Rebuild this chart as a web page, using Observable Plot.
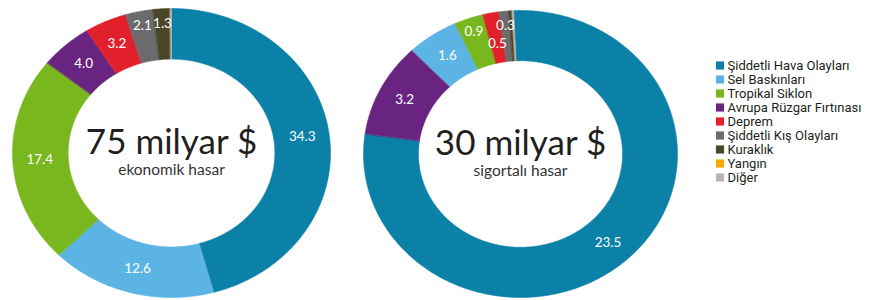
<!DOCTYPE html>
<html>
<head>
<meta charset="utf-8">
<script src="https://cdn.jsdelivr.net/npm/d3@7"></script>
<script src="https://cdn.jsdelivr.net/npm/@observablehq/plot@0.6"></script>
<style>
  html, body { margin: 0; padding: 0; background: #fff; }
  #wrap { display: flex; width: 883px; height: 300px; font-family: Lato, sans-serif; }
  #wrap svg { display: block; background: transparent; }
</style>
</head>
<body>
<div id="wrap"></div>
<script>
// ---- data ----
const categories = [
  "Şiddetli Hava Olayları",
  "Sel Baskınları",
  "Tropikal Siklon",
  "Avrupa Rüzgar Fırtınası",
  "Deprem",
  "Şiddetli Kış Olayları",
  "Kuraklık",
  "Yangın",
  "Diğer"
];
const colors = ["#0b81a7", "#5cb4e4", "#78b71e", "#692481", "#e2202c", "#6b6b6d", "#4a4628", "#f4aa00", "#bab3ad"];

// values in legend (category) order
const ekonomikValues = [34.3, 12.6, 17.4, 4.0, 3.2, 2.1, 1.3, 0, 0.1];
const sigortaliValues = [23.5, 1.6, 0.9, 3.2, 0.5, 0.3, 0.1, 0, 0.05];

// clockwise order of slices from 12 o'clock
const ekonomikOrder = [
  "Şiddetli Hava Olayları", "Sel Baskınları", "Tropikal Siklon", "Avrupa Rüzgar Fırtınası",
  "Deprem", "Şiddetli Kış Olayları", "Kuraklık", "Yangın", "Diğer"
];
const sigortaliOrder = [
  "Şiddetli Hava Olayları", "Avrupa Rüzgar Fırtınası", "Sel Baskınları", "Tropikal Siklon",
  "Deprem", "Şiddetli Kış Olayları", "Kuraklık", "Yangın", "Diğer"
];

const titles = ["75 milyar $", "30 milyar $"];
const subtitles = ["ekonomik hasar", "sigortalı hasar"];

// ---- helpers ----
const INNER = 0.65;
const FONT = "Lato, sans-serif";
const color = {domain: categories, range: colors};

function slices(values, order, startDeg) {
  const byCat = new Map(categories.map((c, i) => [c, values[i]]));
  const vals = order.map(c => byCat.get(c));
  const total = d3.sum(vals);
  let acc = 0;
  return order.map((c, i) => {
    const v = vals[i];
    const a0 = startDeg + acc / total * 360;
    acc += v;
    const a1 = startDeg + acc / total * 360;
    return {cat: c, value: v, a0, a1, frac: v / total};
  }).filter(d => d.value > 0);
}

function ringPoints(sl) {
  const pts = [];
  for (const s of sl) {
    const n = Math.max(2, Math.ceil((s.a1 - s.a0) / 0.5));
    for (let k = 0; k <= n; k++) {
      const a = (s.a0 + (s.a1 - s.a0) * k / n) * Math.PI / 180;
      pts.push({cat: s.cat, x: Math.sin(a), y: Math.cos(a)});
    }
    for (let k = n; k >= 0; k--) {
      const a = (s.a0 + (s.a1 - s.a0) * k / n) * Math.PI / 180;
      pts.push({cat: s.cat, x: INNER * Math.sin(a), y: INNER * Math.cos(a)});
    }
  }
  return pts;
}

function labelPoints(sl, ringOverride) {
  return sl.filter(s => s.value >= 0.3).map(s => {
    const mid = (s.a0 + s.a1) / 2 * Math.PI / 180;
    let r = s.frac < 0.035 ? 0.9 : 0.83;
    if (ringOverride[s.cat] != null) r = ringOverride[s.cat];
    return {x: r * Math.sin(mid), y: r * Math.cos(mid), text: s.value.toFixed(1)};
  });
}

function donut({values, order, title, subtitle, width, xRange, yRange, startDeg, ringOverride}) {
  const sl = slices(values, order, startDeg);
  return Plot.plot({
    width, height: 300,
    margin: 0,
    style: {fontFamily: FONT, background: "transparent"},
    x: {domain: [-1, 1], range: xRange, axis: null},
    y: {domain: [-1, 1], range: yRange, axis: null},
    color,
    marks: [
      Plot.line(ringPoints(sl), {x: "x", y: "y", z: "cat", fill: "cat", stroke: "cat", strokeWidth: 0.6, curve: "linear-closed"}),
      Plot.text(labelPoints(sl, ringOverride), {x: "x", y: "y", text: "text", fill: "white", fontSize: 13.5}),
      Plot.text([title], {x: () => 0, y: () => 0, text: d => d, fontSize: 35, lineAnchor: "bottom", dy: 1, fill: "#231f20"}),
      Plot.text([subtitle], {x: () => 0, y: () => 0, text: d => d, fontSize: 15.5, lineAnchor: "bottom", dy: 22, fill: "#333"})
    ]
  });
}

const wrap = document.getElementById("wrap");

wrap.append(donut({
  values: ekonomikValues, order: ekonomikOrder, title: titles[0], subtitle: subtitles[0],
  width: 345, xRange: [12, 330], yRange: [297, 8], startDeg: 0, ringOverride: {}
}));

wrap.append(donut({
  values: sigortaliValues, order: sigortaliOrder, title: titles[1], subtitle: subtitles[1],
  width: 345, xRange: [18, 332], yRange: [297, 10], startDeg: -2.5, ringOverride: {"Deprem": 0.78}
}));

wrap.append(Plot.plot({
  width: 193, height: 300,
  margin: 0,
  style: {fontFamily: "Roboto, sans-serif", background: "transparent"},
  x: {domain: [0, 1], range: [0, 193], axis: null},
  y: {type: "point", domain: categories, range: [54, 187], axis: null},
  color,
  marks: [
    Plot.dot(categories, {x: () => 0, y: d => d, symbol: "square", fill: d => d, r: 4.6, dx: 29.5}),
    Plot.text(categories, {x: () => 0, y: d => d, text: d => d, textAnchor: "start", dx: 37, fontSize: 13, fill: "#231f20"})
  ]
}));
</script>
</body>
</html>
